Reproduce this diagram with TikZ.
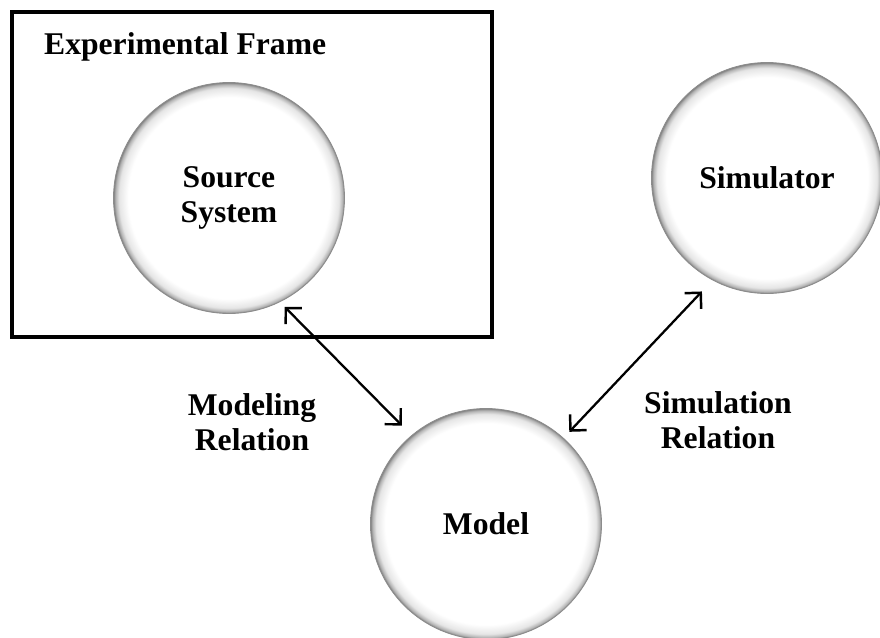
\documentclass[tikz,border=0pt]{standalone}
\usepackage{fontspec}
\setmainfont{Liberation Serif}
\usetikzlibrary{arrows.meta}
% white ball with a grey rim
\pgfdeclareradialshading{rimball}{\pgfpoint{0bp}{0bp}}{color(0bp)=(white); color(21.8bp)=(white); color(23.8bp)=(black!10); color(24.6bp)=(black!30); color(25bp)=(black!50); color(50bp)=(black!50)}
\tikzset{
    blob/.style={circle, minimum size=4.62cm, inner sep=0pt, outer sep=0pt,
        shading=rimball, draw=black!45, line width=0.5pt,
        align=center, font=\fontsize{18}{20}\selectfont\bfseries},
    tag/.style={align=center, font=\fontsize{18}{20}\selectfont\bfseries},
    rel/.style={{Straight Barb[length=6.5pt,width=13pt,line width=1.4pt]}-{Straight Barb[length=6.5pt,width=13pt,line width=1.4pt]},
        line width=1.3pt}
}

\begin{document}
\begin{tikzpicture}[x=0.02cm, y=-0.02cm]
    \useasboundingbox (0, 0) rectangle (880, 637);
    \draw[line width=2.8pt] (12, 12) rectangle (492, 337); % frame
    \node[tag, anchor=west] (frametag) at (38, 47) {Experimental Frame};
    \node[blob] (source) at (229, 198) {Source\\System};
    \node[blob] (sim) at (767, 178) {Simulator};
    \node[blob] (model) at (486, 524) {Model};
    \node[tag] (modrel) at (252, 422) {Modeling\\Relation};
    \node[tag] (simrel) at (718, 420) {Simulation\\Relation};
    \draw[rel, shorten <=4pt, shorten >=8pt] (source.-64) -- (model.130);
    \draw[rel, shorten <=9pt, shorten >=5pt] (sim.-118) -- (model.48);
\end{tikzpicture}
\end{document}
